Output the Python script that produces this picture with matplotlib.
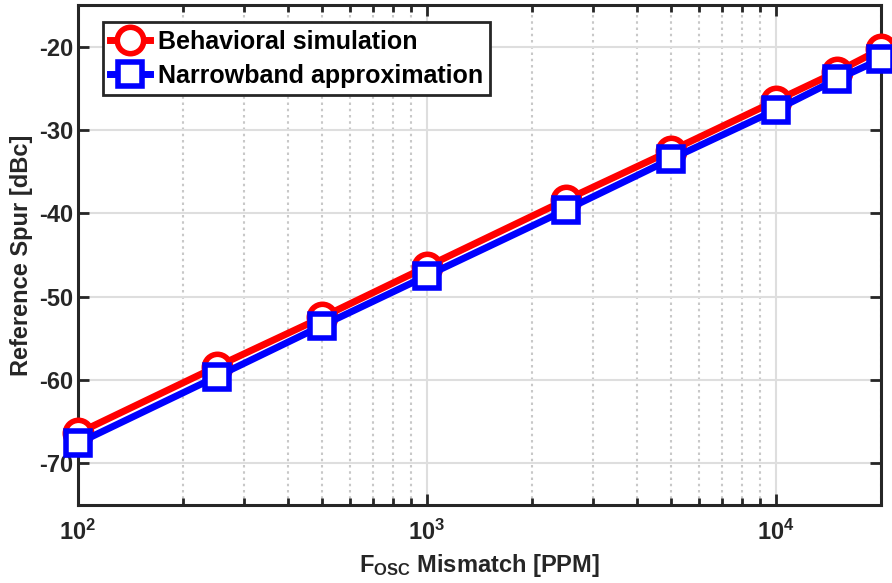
import matplotlib

matplotlib.use("Agg")

import matplotlib.pyplot as plt
from matplotlib.ticker import FixedLocator, LogLocator, NullFormatter, FixedFormatter

plt.rcParams["font.family"] = ["Liberation Sans", "DejaVu Sans"]
plt.rcParams["font.weight"] = "bold"
plt.rcParams["mathtext.fontset"] = "custom"
plt.rcParams["mathtext.rm"] = "Liberation Sans:bold"
plt.rcParams["mathtext.bf"] = "Liberation Sans:bold"
plt.rcParams["mathtext.it"] = "Liberation Sans:bold"

# mismatch in ppm and spur levels in dBc
mismatch_ppm = [100, 250, 500, 1000, 2500, 5000, 10000, 15000, 20000]
behavioral = [-66.4, -58.4, -52.5, -46.4, -38.4, -32.5, -26.5, -23.0, -20.3]
narrowband = [-67.6, -59.6, -53.5, -47.5, -39.6, -33.5, -27.6, -23.9, -21.5]

x_ticks = [100, 1000, 10000]
x_tick_labels = [r"$\mathbf{10^{2}}$", r"$\mathbf{10^{3}}$", r"$\mathbf{10^{4}}$"]
y_ticks = [-70, -60, -50, -40, -30, -20]

fig = plt.figure(figsize=(8.92, 5.83), dpi=100)
ax = fig.add_axes([0.0874, 0.134, 0.9003, 0.8576])

ax.plot(mismatch_ppm, behavioral, color="#ff0000", lw=5, marker="o",
        ms=19, mfc="white", mec="#ff0000", mew=4, label="Behavioral simulation",
        zorder=3, clip_on=False)
ax.plot(mismatch_ppm, narrowband, color="#0000ff", lw=5, marker="s",
        ms=17, mfc="white", mec="#0000ff", mew=4, label="Narrowband approximation",
        zorder=4, clip_on=False)

ax.set_xscale("log")
ax.set_xlim(100, 20000)
ax.set_ylim(-75, -15)

ax.xaxis.set_major_locator(FixedLocator(x_ticks))
ax.xaxis.set_major_formatter(FixedFormatter(x_tick_labels))
ax.xaxis.set_minor_locator(LogLocator(base=10, subs=range(2, 10), numticks=20))
ax.xaxis.set_minor_formatter(NullFormatter())
ax.set_yticks(y_ticks)
ax.set_yticklabels([str(v) for v in y_ticks])

ax.grid(which="major", color="#dedede", lw=1.5, ls="-", zorder=0)
ax.grid(which="minor", axis="x", color="#c8c8c8", lw=1.5, ls=(0, (1.2, 1.8)), zorder=0)
ax.set_axisbelow(True)

ax.tick_params(which="both", direction="in", colors="#262626", labelsize=17,
               top=True, right=True, width=2)
ax.tick_params(which="major", length=8)
ax.tick_params(which="minor", length=5)
ax.tick_params(axis="x", pad=11)
for spine in ax.spines.values():
    spine.set_linewidth(2.2)
    spine.set_color("#262626")
for lbl in ax.get_xticklabels() + ax.get_yticklabels():
    lbl.set_fontweight("bold")

ax.set_xlabel(r"F$_{\mathbf{OSC}}$ Mismatch [PPM]", fontsize=17, fontweight="bold",
              color="#262626", labelpad=5)
ax.set_ylabel("Reference Spur [dBc]", fontsize=17, fontweight="bold", color="#262626",
              labelpad=4)

leg = ax.legend(loc="upper left", bbox_to_anchor=(0.031, 0.965), fontsize=18,
                frameon=True, fancybox=False, borderpad=0.3, handlelength=1.6,
                handletextpad=0.3, labelspacing=0.4, borderaxespad=0, framealpha=1)
leg.get_frame().set_edgecolor("#262626")
leg.get_frame().set_linewidth(2)
for t in leg.get_texts():
    t.set_fontweight("bold")
    t.set_color("black")

fig.savefig("out.png", dpi=100)
plt.close(fig)
